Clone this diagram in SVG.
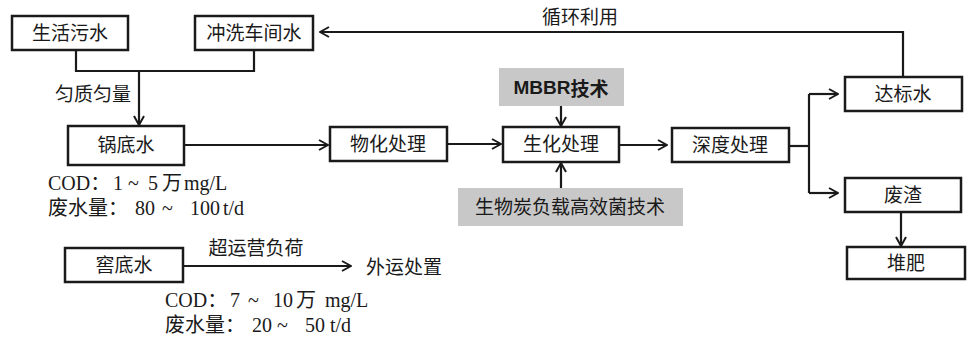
<svg xmlns="http://www.w3.org/2000/svg" width="970" height="337" viewBox="0 0 970 337">
<style>
.box{fill:#fff;stroke:#1a1a1a;stroke-width:2.5}
.gbox{fill:#c8c8c8;stroke:none}
.t{font-family:"Liberation Serif","Noto Sans CJK SC",serif;font-size:19px;fill:#1a1a1a;text-anchor:middle;dominant-baseline:central}
.n{font-family:"Liberation Serif","Noto Sans CJK SC",serif;font-size:20px;fill:#1a1a1a}
.ln{fill:none;stroke:#1a1a1a;stroke-width:2.2}
</style>
<defs>
<marker id="ah" viewBox="0 0 12 12" refX="11" refY="6" markerWidth="12" markerHeight="12" markerUnits="userSpaceOnUse" orient="auto">
<path d="M2,1 L11,6 L2,11" fill="none" stroke="#1a1a1a" stroke-width="2"/>
</marker>
</defs>
<g id="connectors">
<path class="ln" d="M76,50 V71 H254 V50"/>
<path class="ln" d="M139,71 V125" marker-end="url(#ah)"/>
<path class="ln" d="M184,145 H328" marker-end="url(#ah)"/>
<path class="ln" d="M447,144 H501" marker-end="url(#ah)"/>
<path class="ln" d="M561,106 V126" marker-end="url(#ah)"/>
<path class="ln" d="M561,188 V163" marker-end="url(#ah)"/>
<path class="ln" d="M619,145 H667" marker-end="url(#ah)"/>
<path class="ln" d="M789,146 H809"/>
<path class="ln" d="M809,94 V193"/>
<path class="ln" d="M809,94 H838" marker-end="url(#ah)"/>
<path class="ln" d="M809,193 H838" marker-end="url(#ah)"/>
<path class="ln" d="M901,212 V246" marker-end="url(#ah)"/>
<path class="ln" d="M903,77 V32 H320" marker-end="url(#ah)"/>
<path class="ln" d="M183,266 H351" marker-end="url(#ah)"/>
</g>
<g id="n1"><rect class="box" x="12" y="16" width="116" height="34"/><text class="t" x="70" y="33">生活污水</text></g>
<g id="n2"><rect class="box" x="195" y="16" width="118" height="34"/><text class="t" x="254" y="33">冲洗车间水</text></g>
<g id="n3"><rect class="box" x="68" y="126" width="116" height="39"/><text class="t" x="126" y="145">锅底水</text></g>
<g id="n4"><rect class="box" x="330" y="127" width="117" height="34"/><text class="t" x="388" y="144">物化处理</text></g>
<g id="n5"><rect class="box" x="503" y="127" width="116" height="35"/><text class="t" x="561" y="144">生化处理</text></g>
<g id="n6"><rect class="gbox" x="499" y="68" width="125" height="38"/><text class="t" x="561" y="87" font-size="20"><tspan font-family="Liberation Sans,Arial,sans-serif" font-weight="bold">MBBR</tspan><tspan font-family="Noto Sans CJK SC,sans-serif" font-weight="bold">技术</tspan></text></g>
<g id="n7"><rect class="gbox" x="458" y="188" width="225" height="38"/><text class="t" x="570" y="207">生物炭负载高效菌技术</text></g>
<g id="n8"><rect class="box" x="672" y="128" width="117" height="34"/><text class="t" x="730" y="145">深度处理</text></g>
<g id="n9"><rect class="box" x="845" y="77" width="117" height="34"/><text class="t" x="903" y="94">达标水</text></g>
<g id="n10"><rect class="box" x="845" y="178" width="116" height="34"/><text class="t" x="903" y="195">废渣</text></g>
<g id="n11"><rect class="box" x="847" y="247" width="118" height="32"/><text class="t" x="906" y="263">堆肥</text></g>
<g id="n12"><rect class="box" x="65" y="248" width="118" height="34"/><text class="t" x="124" y="265">窖底水</text></g>
<g id="n13"><text class="t" x="404" y="267">外运处置</text></g>
<g id="labels">
<text class="t" x="93" y="94">匀质匀量</text>
<text class="t" x="580" y="17">循环利用</text>
<text class="t" x="256" y="248">超运营负荷</text>
<text class="n" y="190"><tspan x="48">COD：</tspan><tspan x="113">1</tspan><tspan x="128">~</tspan><tspan x="148">5</tspan><tspan x="162">万</tspan><tspan x="184">mg/L</tspan></text>
<text class="n" y="215"><tspan x="48">废水量：</tspan><tspan x="135">80</tspan><tspan x="162">~</tspan><tspan x="190">100</tspan><tspan x="223">t/d</tspan></text>
<text class="n" y="307"><tspan x="165">COD：</tspan><tspan x="230">7</tspan><tspan x="248">~</tspan><tspan x="273">10</tspan><tspan x="296">万</tspan><tspan x="325">mg/L</tspan></text>
<text class="n" y="332"><tspan x="165">废水量：</tspan><tspan x="252">20</tspan><tspan x="277">~</tspan><tspan x="305">50</tspan><tspan x="330">t/d</tspan></text>
</g>
</svg>
